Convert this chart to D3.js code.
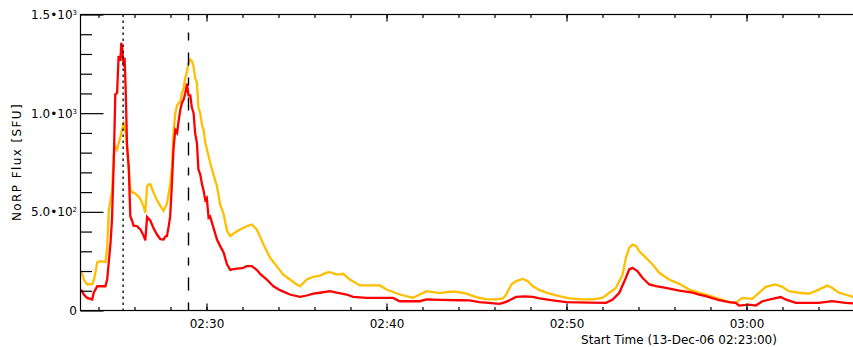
<!DOCTYPE html>
<html>
<head>
<meta charset="utf-8">
<script src="https://cdn.jsdelivr.net/npm/d3@7"></script>
<style>
  html, body { margin: 0; padding: 0; background: #fff; }
  svg { display: block; }
  text { font-family: "DejaVu Sans", sans-serif; }
</style>
</head>
<body>
<svg id="chart" width="853" height="347"></svg>
<script>
// NoRP flux, 13-Dec-2006 flare. Times are UT (hh:mm:ss), flux in SFU.
const redTime = ["02:23:02","02:23:11","02:23:22","02:23:39","02:23:44","02:23:56","02:24:23","02:24:29","02:24:34","02:24:40",
  "02:24:45","02:24:51","02:24:56","02:25:02","02:25:07","02:25:13","02:25:16","02:25:19","02:25:24","02:25:27",
  "02:25:31","02:25:35","02:25:41","02:25:46","02:25:52","02:25:57","02:26:09","02:26:20","02:26:25","02:26:31",
  "02:26:36","02:26:42","02:26:53","02:27:04","02:27:15","02:27:26","02:27:37","02:27:43","02:27:48","02:27:54",
  "02:27:59","02:28:05","02:28:10","02:28:16","02:28:22","02:28:27","02:28:33","02:28:38","02:28:44","02:28:49",
  "02:28:55","02:29:00","02:29:06","02:29:11","02:29:17","02:29:22","02:29:28","02:29:33","02:29:39","02:29:45",
  "02:29:50","02:29:56","02:30:01","02:30:07","02:30:12","02:30:23","02:30:35","02:30:46","02:30:57","02:31:08",
  "02:31:19","02:31:30","02:31:41","02:31:52","02:32:03","02:32:14","02:32:31","02:32:48","02:32:59","02:33:21",
  "02:33:43","02:34:05","02:34:38","02:35:12","02:35:34","02:35:56","02:36:18","02:36:51","02:37:14","02:37:47",
  "02:38:09","02:38:53","02:40:22","02:40:44","02:41:51","02:42:13","02:42:57","02:44:04","02:44:37","02:45:10",
  "02:46:17","02:46:39","02:47:12","02:47:40","02:48:08","02:48:30","02:49:14","02:49:59","02:51:16","02:52:12",
  "02:52:34","02:52:56","02:53:18","02:53:29","02:53:40","02:53:57","02:54:13","02:54:36","02:54:58","02:55:31",
  "02:56:16","02:57:00","02:57:22","02:57:44","02:58:29","02:59:02","02:59:24","02:59:35","03:00:08","03:00:31",
  "03:00:53","03:01:26","03:01:54","03:02:10","03:02:44","03:03:28","03:04:01","03:04:45","03:05:30","03:06:00"];
const redFlux = [106,81,64,56,90,123,123,157,242,340,
  461,760,1095,1103,1290,1265,1357,1330,1237,1280,
  1100,840,720,478,455,430,427,410,395,377,
  355,474,455,415,385,362,360,375,377,426,
  478,650,820,915,900,960,1019,1052,1070,1100,
  1150,1090,1090,1030,1000,900,850,715,690,640,
  610,560,570,470,476,420,360,325,294,235,
  206,210,212,214,216,225,225,205,185,157,
  123,103,81,69,76,85,90,98,90,81,
  69,64,64,47,47,56,54,52,51,42,
  34,44,69,72,69,61,51,42,40,39,
  56,90,166,208,216,199,166,132,123,115,
  101,90,81,73,52,42,39,25,30,25,
  47,59,68,56,39,39,39,47,39,35];

const yellowTime = ["02:23:02","02:23:13","02:23:23","02:23:40","02:23:47","02:23:56","02:24:07","02:24:23","02:24:29","02:24:34",
  "02:24:40","02:24:45","02:24:51","02:24:56","02:25:02","02:25:07","02:25:13","02:25:19","02:25:24","02:25:31",
  "02:25:35","02:25:41","02:25:46","02:25:52","02:25:57","02:26:09","02:26:20","02:26:31","02:26:36","02:26:42",
  "02:26:47","02:26:53","02:27:04","02:27:15","02:27:26","02:27:37","02:27:48","02:27:59","02:28:05","02:28:10",
  "02:28:16","02:28:22","02:28:33","02:28:38","02:28:44","02:28:49","02:28:55","02:29:00","02:29:06","02:29:11",
  "02:29:17","02:29:22","02:29:28","02:29:33","02:29:39","02:29:45","02:29:50","02:29:56","02:30:01","02:30:12",
  "02:30:23","02:30:35","02:30:46","02:30:57","02:31:08","02:31:19","02:31:30","02:31:41","02:31:52","02:32:14",
  "02:32:31","02:32:48","02:33:10","02:33:32","02:33:54","02:34:16","02:34:38","02:35:01","02:35:12","02:35:34",
  "02:35:56","02:36:18","02:36:40","02:36:51","02:37:14","02:37:36","02:37:58","02:38:31","02:39:38","02:40:00",
  "02:40:44","02:41:28","02:41:51","02:42:13","02:42:57","02:43:31","02:43:53","02:44:26","02:44:59","02:45:33",
  "02:46:06","02:46:28","02:46:39","02:46:56","02:47:12","02:47:34","02:47:51","02:48:08","02:48:30","02:49:03",
  "02:49:36","02:50:10","02:50:54","02:51:27","02:52:00","02:52:23","02:52:45","02:53:07","02:53:18","02:53:29",
  "02:53:40","02:53:52","02:54:02","02:54:25","02:54:47","02:55:09","02:55:42","02:56:16","02:56:49","02:57:22",
  "02:57:55","02:58:29","02:59:02","02:59:24","02:59:46","03:00:19","03:00:42","03:01:04","03:01:37","03:01:59",
  "03:02:21","03:02:55","03:03:28","03:04:01","03:04:29","03:04:45","03:05:08","03:05:30","03:06:00"];
const yellowFlux = [199,150,132,135,170,245,250,245,320,500,
  560,600,790,830,815,845,880,920,945,900,
  830,715,613,598,598,585,563,525,495,630,
  639,639,595,560,530,505,540,640,730,900,
  1000,1040,1060,1100,1130,1180,1210,1250,1272,1265,
  1237,1180,1155,1030,1000,940,917,850,820,750,
  690,630,535,490,405,377,390,400,410,427,
  436,410,334,267,225,182,157,132,123,157,
  171,177,192,194,182,186,157,127,127,106,
  81,64,81,98,88,95,95,85,68,56,
  56,61,81,132,149,160,149,123,103,86,
  73,61,56,56,64,90,115,182,267,318,
  334,326,301,267,233,191,157,135,106,90,
  76,59,42,39,64,59,90,120,132,120,
  98,90,85,106,127,115,90,81,66];

// Axis ticks and labels
const xLabelTicks = ["02:30:00", "02:40:00", "02:50:00", "03:00:00"];
const xMinorStep = 2;    // minutes between small ticks
const yMajorValues = [0, 500, 1000, 1500];
const yMinorValues = [100, 200, 300, 400, 600, 700, 800, 900, 1100, 1200, 1300, 1400];
const yLabelMantissa = ["0", "5.0", "1.0", "1.5"];
const yLabelExponent = ["", "2", "3", "3"];

// Marker times (impulsive peak, second peak)
const dottedMarker = "02:25:22";
const dashedMarker = "02:29:00";

const axisStart = "02:23:00";
const axisEnd = "03:10:00";
const startLabel = "Start Time (13-Dec-06 02:23:00)";
const yTitle = "NoRP Flux [SFU]";

const parse = d3.timeParse("%H:%M:%S");
const svg = d3.select("#chart");

const plotLeft = 80.5, plotTop = 14.5, plotBottom = 310.5;
const pxPerMin = 18;
const x = d3.scaleTime()
  .domain([parse(axisStart), parse(axisEnd)])
  .range([plotLeft, plotLeft + pxPerMin * 47]);
const y = d3.scaleLinear().domain([0, 1500]).range([plotBottom, plotTop]);
const plotRight = x.range()[1];

const series = [
  { color: "#ffbf00", data: yellowTime.map((t, i) => [parse(t), yellowFlux[i]]) },
  { color: "#ff0000", data: redTime.map((t, i) => [parse(t), redFlux[i]]) }
];

svg.append("clipPath").attr("id", "plot-clip")
  .append("rect").attr("x", plotLeft).attr("y", plotTop)
  .attr("width", plotRight - plotLeft).attr("height", plotBottom - plotTop);

const line = d3.line().x(d => x(d[0])).y(d => y(d[1]));

const curves = svg.append("g").attr("clip-path", "url(#plot-clip)");
series.forEach(s => {
  curves.append("path")
    .datum(s.data)
    .attr("d", line)
    .attr("fill", "none")
    .attr("stroke", s.color)
    .attr("stroke-width", 2.3)
    .attr("stroke-linejoin", "miter");
});

// Vertical markers
svg.append("line")
  .attr("x1", x(parse(dottedMarker))).attr("x2", x(parse(dottedMarker)))
  .attr("y1", plotTop).attr("y2", plotBottom)
  .attr("stroke", "#000").attr("stroke-width", 1.3)
  .attr("stroke-dasharray", "2.5,3.5");
svg.append("line")
  .attr("x1", x(parse(dashedMarker))).attr("x2", x(parse(dashedMarker)))
  .attr("y1", plotBottom).attr("y2", plotTop)
  .attr("stroke", "#000").attr("stroke-width", 1.4)
  .attr("stroke-dasharray", "8,12,13,12");

// Frame
svg.append("rect")
  .attr("x", plotLeft).attr("y", plotTop)
  .attr("width", plotRight - plotLeft).attr("height", plotBottom - plotTop)
  .attr("fill", "none").attr("stroke", "#000").attr("stroke-width", 1.2);

function styleAxis(g) {
  g.select(".domain").remove();
  g.selectAll(".tick line").attr("stroke", "#000").attr("stroke-width", 1.2);
  g.selectAll("text").attr("font-family", "DejaVu Sans").attr("font-size", 12).attr("fill", "#000");
}

const labelTickDates = xLabelTicks.map(parse);

// Bottom axis: labelled ticks every 10 min, minor every 2 min (pointing inward)
svg.append("g").attr("transform", `translate(0,${plotBottom})`)
  .call(d3.axisBottom(x).ticks(d3.timeMinute.every(xMinorStep)).tickSize(-3.5).tickFormat(""))
  .call(styleAxis);
svg.append("g").attr("transform", `translate(0,${plotBottom})`)
  .call(d3.axisBottom(x).tickValues(labelTickDates).tickSize(-7).tickPadding(9)
    .tickFormat(d3.timeFormat("%H:%M")))
  .call(styleAxis);

// Top axis mirrors the bottom ticks
svg.append("g").attr("transform", `translate(0,${plotTop})`)
  .call(d3.axisTop(x).ticks(d3.timeMinute.every(xMinorStep)).tickSize(-3.5).tickFormat(""))
  .call(styleAxis);
svg.append("g").attr("transform", `translate(0,${plotTop})`)
  .call(d3.axisTop(x).tickValues(labelTickDates).tickSize(-7).tickFormat(""))
  .call(styleAxis);

// Left axis
svg.append("g").attr("transform", `translate(${plotLeft},0)`)
  .call(d3.axisLeft(y).tickValues(yMinorValues).tickSize(-11.5).tickFormat(""))
  .call(styleAxis);
svg.append("g").attr("transform", `translate(${plotLeft},0)`)
  .call(d3.axisLeft(y).tickValues(yMajorValues).tickSize(-23).tickFormat(""))
  .call(styleAxis);

// Left axis labels in a•10ⁿ form
const yLabels = svg.append("g")
  .attr("font-family", "DejaVu Sans").attr("font-size", 12).attr("fill", "#000");
yMajorValues.forEach((v, i) => {
  const t = yLabels.append("text")
    .attr("x", plotLeft - 3.5)
    .attr("y", y(v) + 4.4)
    .attr("text-anchor", "end");
  if (yLabelExponent[i]) {
    t.append("tspan").text(yLabelMantissa[i] + "\u202210");
    t.append("tspan").attr("font-size", 7).attr("dy", -4).text(yLabelExponent[i]);
  } else {
    t.text(yLabelMantissa[i]);
  }
});

// Titles
svg.append("text")
  .attr("x", 679).attr("y", 344)
  .attr("text-anchor", "middle")
  .attr("font-size", 12)
  .text(startLabel);

svg.append("text")
  .attr("transform", "translate(20.5,162) rotate(-90)")
  .attr("text-anchor", "middle")
  .attr("font-size", 12)
  .attr("letter-spacing", 1.4)
  .text(yTitle);
</script>
</body>
</html>
